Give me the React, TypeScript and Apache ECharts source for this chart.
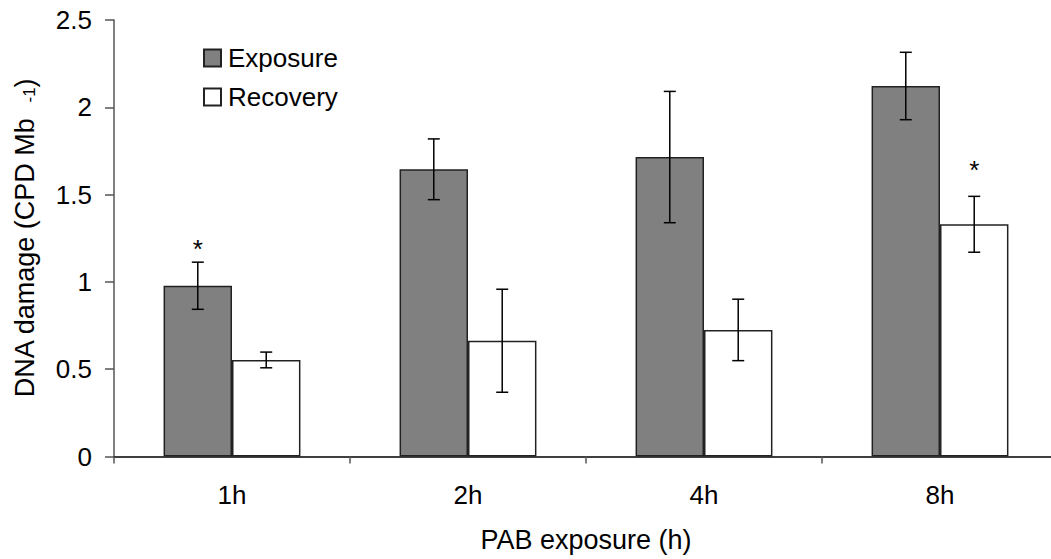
import React, { useEffect, useRef } from "react";
import * as echarts from "echarts";

const categories = ["1h", "2h", "4h", "8h"];
const exposure = [0.978, 1.645, 1.715, 2.122];
const exposureErr = [0.135, 0.174, 0.376, 0.193];
const recovery = [0.553, 0.663, 0.725, 1.33];
const recoveryErr = [0.045, 0.295, 0.176, 0.16];
// [category index, series index (0 exposure, 1 recovery), value where the asterisk sits]
const significance: [number, number, number][] = [
  [0, 0, 1.19],
  [3, 1, 1.64],
];
const yTicks = { min: 0, max: 2.5, interval: 0.5 };

const FONT = "'Liberation Sans', Arial, sans-serif";
const GAP = 0.42;

export default function App() {
  const ref = useRef<HTMLDivElement>(null);
  useEffect(() => {
    if (!ref.current) return;
    const chart = echarts.init(ref.current, null, { renderer: "svg" });
    const errData: number[][] = [];
    exposure.forEach((v, i) => errData.push([i, v, exposureErr[i], 0]));
    recovery.forEach((v, i) => errData.push([i, v, recoveryErr[i], 1]));
    const sigData = significance.map((s) => [s[0], s[2], s[1]]);

    const barOffset = (api: any) => {
      const band = api.size([1, 0])[0];
      return (band * (1 - GAP)) / 2;
    };

    chart.setOption({
      animation: false,
      textStyle: { fontFamily: FONT },
      grid: {
        left: 114,
        right: -7,
        top: 20,
        bottom: 102.5,
        containLabel: false,
        outerBoundsMode: "none",
      },
      legend: {
        data: ["Exposure", "Recovery"],
        orient: "vertical",
        left: 203,
        top: 45,
        padding: 0,
        itemWidth: 17,
        itemHeight: 17,
        itemGap: 13,
        icon: "rect",
        textStyle: { fontSize: 26, color: "#000", fontFamily: FONT, padding: [0, 0, 0, 2] },
      },
      xAxis: {
        type: "category",
        data: categories,
        name: "PAB exposure (h)",
        nameLocation: "middle",
        nameGap: 70,
        nameTextStyle: { fontSize: 27, color: "#000", fontFamily: FONT },
        axisLine: { lineStyle: { color: "#000", width: 1.5 } },
        axisTick: { show: true, length: 7, lineStyle: { color: "#555", width: 1.5 } },
        axisLabel: { fontSize: 26, color: "#000", margin: 25, fontFamily: FONT },
      },
      yAxis: {
        type: "value",
        min: yTicks.min,
        max: yTicks.max,
        interval: yTicks.interval,
        name: "DNA damage (CPD Mb  {sup|-1})",
        nameLocation: "middle",
        nameGap: 76,
        nameTextStyle: {
          fontSize: 27,
          color: "#000",
          fontFamily: FONT,
          rich: {
            sup: { fontSize: 17, color: "#000", fontFamily: FONT, verticalAlign: "bottom" },
          },
        },
        splitLine: { show: false },
        axisLine: { show: true, lineStyle: { color: "#555", width: 1.5 } },
        axisTick: { show: true, length: 9, lineStyle: { color: "#555", width: 1.5 } },
        axisLabel: { fontSize: 26, color: "#000", margin: 22, fontFamily: FONT },
      },
      series: [
        {
          name: "Exposure",
          type: "bar",
          data: exposure,
          barGap: "0%",
          barCategoryGap: GAP * 100 + "%",
          itemStyle: { color: "#808080", borderColor: "#222", borderWidth: 1.5 },
        },
        {
          name: "Recovery",
          type: "bar",
          data: recovery,
          barGap: "0%",
          barCategoryGap: GAP * 100 + "%",
          itemStyle: { color: "#fff", borderColor: "#222", borderWidth: 1.5 },
        },
        {
          type: "custom",
          data: errData,
          z: 10,
          silent: true,
          renderItem: (params: any, api: any) => {
            const cat = api.value(0);
            const v = api.value(1);
            const e = api.value(2);
            const s = api.value(3);
            const off = barOffset(api);
            const c = api.coord([cat, v]);
            const x = c[0] + (s === 0 ? -off / 2 : off / 2);
            const yt = api.coord([cat, v + e])[1];
            const yb = api.coord([cat, v - e])[1];
            const cw = 6;
            const st = { stroke: "#000", lineWidth: 1.5 };
            return {
              type: "group",
              children: [
                { type: "line", shape: { x1: x, y1: yt, x2: x, y2: yb }, style: st },
                { type: "line", shape: { x1: x - cw, y1: yt, x2: x + cw, y2: yt }, style: st },
                { type: "line", shape: { x1: x - cw, y1: yb, x2: x + cw, y2: yb }, style: st },
              ],
            };
          },
        },
        {
          type: "custom",
          data: sigData,
          z: 10,
          silent: true,
          renderItem: (params: any, api: any) => {
            const cat = api.value(0);
            const v = api.value(1);
            const s = api.value(2);
            const off = barOffset(api);
            const c = api.coord([cat, v]);
            const x = c[0] + (s === 0 ? -off / 2 : off / 2);
            return {
              type: "text",
              style: {
                text: "*",
                x,
                y: c[1],
                align: "center",
                verticalAlign: "middle",
                fontSize: 26,
                fontFamily: FONT,
                fill: "#000",
              },
            };
          },
        },
      ],
    });
    return () => chart.dispose();
  }, []);
  return (
    <div
      ref={ref}
      style={{ position: "fixed", left: 0, top: 0, width: 1051, height: 559, background: "#fff" }}
    />
  );
}
